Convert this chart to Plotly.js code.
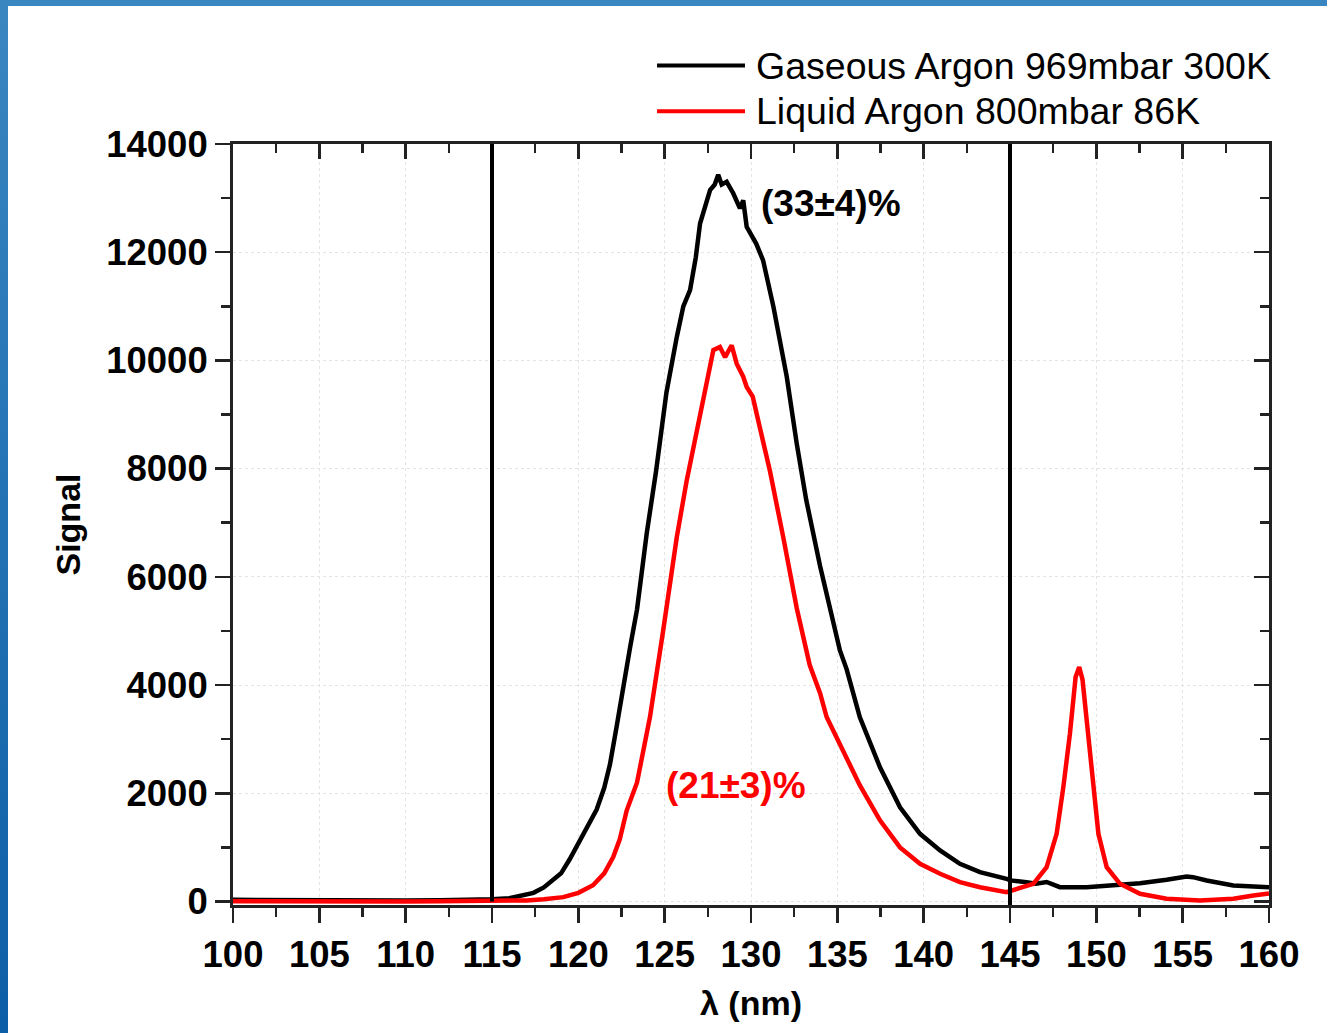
<!DOCTYPE html>
<html><head><meta charset="utf-8">
<script src="https://cdn.plot.ly/plotly-3.0.1.min.js"></script>
<style>
html,body{margin:0;padding:0;width:1327px;height:1033px;overflow:hidden;background:linear-gradient(to bottom,#3a86c1,#0c5ea6);}
#chart{position:absolute;left:8px;top:6px;width:1319px;height:1027px;background:#fff;}
</style></head><body><div id="chart"></div>
<script>
// Gaseous argon spectrum
const gasX = [100,102,104,106,108,110,112,114,115,116,116.8,117.4,118,118.55,119,119.5,120.1,120.6,121.06,121.5,121.83,122.2,122.6,123.0,123.4,123.96,124.5,124.73,125.1,125.7,126.08,126.47,126.8,127.05,127.63,127.9,128.1,128.3,128.59,128.97,129.36,129.55,129.75,130.3,130.7,131.3,132.07,132.65,133.2,134.0,134.77,135.15,135.54,136.3,137.47,138.63,139.79,140.95,142.1,143.26,144.8,145.0,145.96,146.5,147.12,147.89,149.43,150.97,152.53,154.07,155.23,155.6,156.39,157.93,160];
const gasY = [30,25,30,20,25,20,25,30,40,60,110,160,260,390,520,780,1150,1420,1700,2100,2530,3200,4000,4700,5400,6800,7950,8460,9400,10430,11000,11300,11900,12530,13150,13250,13430,13250,13300,13090,12810,12960,12470,12160,11850,10990,9700,8460,7420,6200,5160,4640,4290,3410,2480,1740,1250,943,697,542,420,390,357,330,360,264,264,296,339,401,462,450,388,296,264];
// Liquid argon spectrum
const liqX = [100,102,104,106,108,110,112,114,116,117,118,119.13,120,120.85,121.5,122.02,122.4,122.8,123.4,124.15,124.9,125.7,126.27,126.85,127.43,127.82,128.2,128.5,128.88,129.17,129.55,129.75,130.1,130.7,131.1,131.87,132.65,133.4,134.0,134.38,135.15,136.3,137.47,138.63,139.79,140.95,142.1,143.26,144.8,145.4,146.35,147.12,147.7,148.09,148.47,148.8,149.01,149.2,149.54,149.83,150.12,150.6,151.37,152.53,154.07,156.0,157.93,159.1,160];
const liqY = [5,0,5,0,5,0,5,5,10,20,40,80,160,300,520,820,1150,1680,2200,3410,4980,6730,7770,8640,9520,10190,10250,10060,10280,9940,9700,9510,9330,8460,7950,6730,5420,4370,3850,3410,2900,2150,1500,1000,697,512,357,264,172,234,327,634,1250,2115,3100,4150,4333,4100,3100,2115,1250,634,327,142,49,18,49,111,150];

const seriesNames = ['Gaseous Argon 969mbar 300K', 'Liquid Argon 800mbar 86K'];
const seriesColors = ['#000000', '#ff0000'];
const fractionLabels = ['(33\u00b14)%', '(21\u00b13)%'];
const fractionX = [130.45, 124.95];
const fractionY = [12900, 2150];
const xTicks = [100,105,110,115,120,125,130,135,140,145,150,155,160];
const yTicks = [0,2000,4000,6000,8000,10000,12000,14000];
const cutLines = [115, 145];
const xRange = [100, 160];
const yRange = [-65, 14000];

const FONT = 'Liberation Sans, Arial, sans-serif';
const AX = '#222';

const traces = [
  {x: gasX, y: gasY, type: 'scatter', mode: 'lines', name: seriesNames[0], line: {color: seriesColors[0], width: 4.5}, showlegend: false},
  {x: liqX, y: liqY, type: 'scatter', mode: 'lines', name: seriesNames[1], line: {color: seriesColors[1], width: 4.5}, showlegend: false},
  {x: [null], y: [null], xaxis: 'x2', yaxis: 'y2', type: 'scatter', mode: 'lines', showlegend: false, hoverinfo: 'skip'}
];

const shapes = [];
cutLines.forEach((c, i) => {
  shapes.push({type: 'line', xref: 'x', yref: 'y', x0: c, x1: c, y0: i === 0 ? 0 : yRange[0], y1: yRange[1], line: {color: '#000', width: 4}});
});
// legend (custom, long line samples)
const legY = [1.103, 1.043];
seriesNames.forEach((n, i) => {
  shapes.push({type: 'line', xref: 'paper', yref: 'paper', x0: 0.4093, x1: 0.4942, y0: legY[i], y1: legY[i], line: {color: seriesColors[i], width: 4}});
});

const annotations = [];
seriesNames.forEach((n, i) => {
  annotations.push({xref: 'paper', yref: 'paper', x: 0.5029, y: legY[i], xanchor: 'left', yanchor: 'middle', text: n, showarrow: false, font: {family: FONT, size: 37.5, color: '#000'}});
});
fractionLabels.forEach((t, i) => {
  annotations.push({xref: 'x', yref: 'y', x: fractionX[i], y: fractionY[i], xanchor: 'left', yanchor: 'middle', text: t, showarrow: false, font: {family: FONT, size: 37, color: seriesColors[i], weight: 'bold'}});
});

const tickFont = {family: FONT, size: 36.5, color: '#000', weight: 'bold'};
const layout = {
  width: 1319, height: 1027,
  margin: {l: 225, r: 58, t: 138, b: 128},
  paper_bgcolor: '#ffffff', plot_bgcolor: '#ffffff',
  xaxis: {
    range: xRange, tickmode: 'array', tickvals: xTicks, ticktext: xTicks.map(String),
    ticks: 'outside', ticklen: 15, tickwidth: 2.5, tickcolor: AX,
    showline: true, linewidth: 3, linecolor: AX, zeroline: false,
    showgrid: true, gridcolor: '#e4e4e4', griddash: 'dot', gridwidth: 1,
    tickfont: tickFont,
    minor: {tickmode: 'linear', tick0: 100, dtick: 2.5, ticks: 'outside', ticklen: 9, tickwidth: 2.5, tickcolor: AX, showgrid: false},
    title: {text: '\u03bb (nm)', font: {family: FONT, size: 34, color: '#000', weight: 'bold'}, standoff: 18}
  },
  yaxis: {
    range: yRange, tickmode: 'array', tickvals: yTicks, ticktext: yTicks.map(String),
    ticks: 'outside', ticklen: 15, tickwidth: 2.5, tickcolor: AX,
    showline: true, linewidth: 3, linecolor: AX, zeroline: false,
    showgrid: true, gridcolor: '#e4e4e4', griddash: 'dot', gridwidth: 1,
    tickfont: tickFont,
    minor: {tickmode: 'linear', tick0: 0, dtick: 1000, ticks: 'outside', ticklen: 9, tickwidth: 2.5, tickcolor: AX, showgrid: false},
    title: {text: 'Signal', font: {family: FONT, size: 34, color: '#000', weight: 'bold'}, standoff: 16}
  },
  xaxis2: {
    overlaying: 'x', side: 'top', anchor: 'y2', range: xRange, tickmode: 'array', tickvals: xTicks,
    showticklabels: false, ticks: 'inside', ticklen: 15, tickwidth: 2.5, tickcolor: AX,
    showline: true, linewidth: 3, linecolor: AX, showgrid: false, zeroline: false,
    minor: {tickmode: 'linear', tick0: 100, dtick: 2.5, ticks: 'inside', ticklen: 9, tickwidth: 2.5, tickcolor: AX, showgrid: false}
  },
  yaxis2: {
    overlaying: 'y', side: 'right', anchor: 'x2', range: yRange, tickmode: 'array', tickvals: yTicks,
    showticklabels: false, ticks: 'inside', ticklen: 15, tickwidth: 2.5, tickcolor: AX,
    showline: true, linewidth: 3, linecolor: AX, showgrid: false, zeroline: false,
    minor: {tickmode: 'linear', tick0: 0, dtick: 1000, ticks: 'inside', ticklen: 9, tickwidth: 2.5, tickcolor: AX, showgrid: false}
  },
  shapes: shapes,
  annotations: annotations,
  showlegend: false
};

Plotly.newPlot('chart', traces, layout, {displayModeBar: false, staticPlot: true});
</script>
</body></html>
